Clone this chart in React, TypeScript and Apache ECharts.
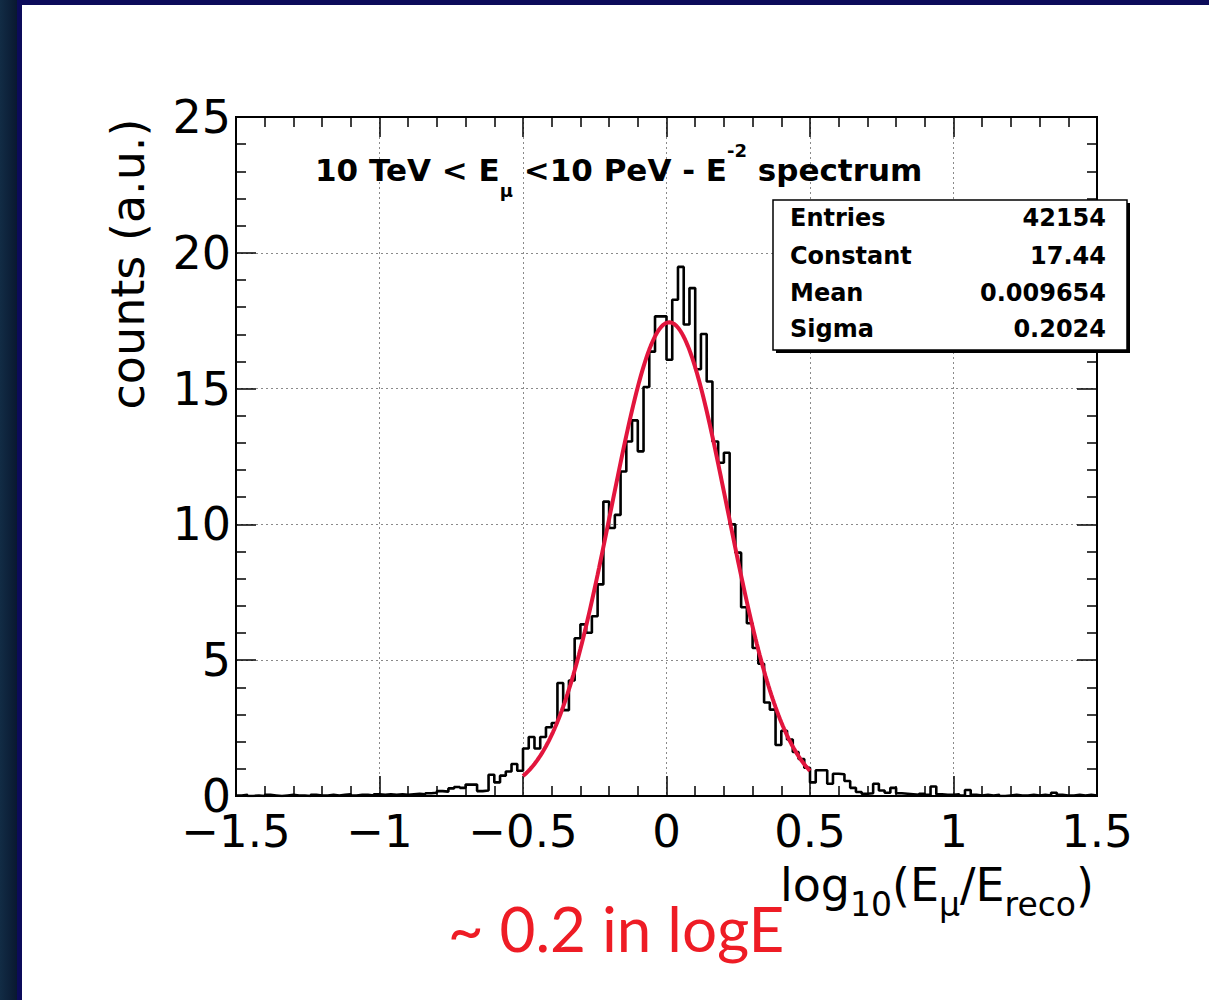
import React, { useEffect, useRef } from "react";
import * as echarts from "echarts";

// Histogram binning: 150 bins of width 0.02 over [-1.5, 1.5]
const HIST_MIN = -1.5;
const BIN_WIDTH = 0.02;

// Bin contents (counts, arbitrary units), left to right
const counts: number[] = [
  // -1.50 … -0.92
  0.02, 0.04, 0, 0.02, 0, 0.04, 0.02, 0, 0.02, 0.04,
  0.02, 0.02, 0, 0.04, 0.02, 0.02, 0.04, 0.02, 0.04, 0.06,
  0.02, 0.04, 0.04, 0.02, 0.06, 0.04, 0.06, 0.04, 0.06, 0.04,
  // -0.90 … -0.52
  0.06, 0.08, 0.06, 0.1, 0.12, 0.18, 0.16, 0.28, 0.33, 0.3,
  0.42, 0.42, 0.18, 0.2, 0.78, 0.5, 0.75, 0.9, 1.18, 0.93,
  // -0.50 … -0.02
  1.75, 2.17, 1.75, 2.17, 2.53, 2.69, 4.16, 3.16, 4.25, 5.81,
  6.32, 6.01, 6.62, 7.79, 10.84, 9.87, 10.35, 11.95, 13.05, 13.83,
  12.69, 15.06, 16.36, 17.66, 17.66,
  // 0.00 … 0.48
  16.06, 18.27, 19.48, 17.36, 18.7, 15.71, 17.01, 15.26, 13.05, 12.27,
  12.64, 10.0, 8.96, 6.95, 6.36, 5.45, 4.87, 3.44, 3.18, 1.88,
  2.4, 2.08, 1.62, 1.36, 1.04,
  // 0.50 … 1.48
  0.5, 0.95, 0.95, 0.45, 0.82, 0.8, 0.55, 0.3, 0.15, 0.08,
  0.1, 0.45, 0.2, 0.12, 0.3, 0.1, 0.08, 0.06, 0.04, 0.08,
  0.04, 0.35, 0.06, 0.04, 0.04, 0.06, 0.02, 0.22, 0.04,
  0.02, 0.04, 0.02, 0.04, 0, 0.02, 0.04, 0.02, 0.02, 0.04,
  0.02, 0.04, 0.02, 0.12, 0.04, 0.02, 0.02, 0.04, 0.02, 0.04, 0.02,
];

// Statistics box
const statNames = ["Entries", "Constant", "Mean", "Sigma"];
const statValues = ["42154", "17.44", "0.009654", "0.2024"];

// Gaussian fit, drawn over this range
const fitRange = [-0.5, 0.5];
const fitConstant = 17.44;
const fitMean = 0.009654;
const fitSigma = 0.2024;

const FONT = "DejaVu Sans";

function fmtTick(v: number): string {
  return String(v).replace("-", "\u2212");
}

export default function App() {
  const ref = useRef<HTMLDivElement>(null);

  useEffect(() => {
    if (!ref.current) return;
    const chart = echarts.init(ref.current, null, { renderer: "svg" });

    // step outline: one point per bin low edge, plus the last upper edge
    const histPoints: number[][] = counts.map((v, i) => [HIST_MIN + i * BIN_WIDTH, v]);
    histPoints.push([HIST_MIN + counts.length * BIN_WIDTH, counts[counts.length - 1]]);

    const nFit = 200;
    const fitPoints: number[][] = [];
    for (let i = 0; i <= nFit; i++) {
      const x = fitRange[0] + ((fitRange[1] - fitRange[0]) * i) / nFit;
      const z = (x - fitMean) / fitSigma;
      fitPoints.push([x, fitConstant * Math.exp(-0.5 * z * z)]);
    }

    const tickStyle = { color: "#000", width: 1.5 };
    const gridLine = { show: true, lineStyle: { color: "#8a8a8a", width: 1, type: [2, 3] } };

    const xCommon = {
      type: "value",
      min: -1.5,
      max: 1.5,
      interval: 0.5,
      axisLine: { show: true, onZero: false, lineStyle: { color: "#000", width: 2 } },
      axisTick: { show: true, inside: true, length: 20, lineStyle: tickStyle },
      minorTick: { show: true, splitNumber: 5, length: 10, lineStyle: tickStyle },
    };
    const yCommon = {
      type: "value",
      min: 0,
      max: 25,
      interval: 5,
      axisLine: { show: true, onZero: false, lineStyle: { color: "#000", width: 2 } },
      axisTick: { show: true, inside: true, length: 20, lineStyle: tickStyle },
      minorTick: { show: true, splitNumber: 5, length: 10, lineStyle: tickStyle },
    };

    const statTexts: any[] = [];
    const rowY = [218, 256, 293, 329];
    statNames.forEach((name, i) => {
      statTexts.push({
        type: "text",
        x: 790,
        y: rowY[i],
        z: 102,
        style: {
          text: name,
          fontFamily: FONT,
          fontWeight: "bold",
          fontSize: 24,
          fill: "#000",
          align: "left",
          verticalAlign: "middle",
        },
      });
      statTexts.push({
        type: "text",
        x: 1106,
        y: rowY[i],
        z: 102,
        style: {
          text: statValues[i],
          fontFamily: FONT,
          fontWeight: "bold",
          fontSize: 24,
          fill: "#000",
          align: "right",
          verticalAlign: "middle",
        },
      });
    });

    const option: any = {
      animation: false,
      backgroundColor: "#ffffff",
      grid: {
        left: 236,
        top: 117,
        width: 861,
        height: 679,
        show: true,
        borderColor: "#000",
        borderWidth: 2,
        containLabel: false,
      },
      xAxis: [
        {
          ...xCommon,
          position: "bottom",
          axisLabel: {
            show: true,
            fontFamily: FONT,
            fontSize: 45,
            color: "#000",
            margin: 13,
            formatter: (v: number) => fmtTick(v),
          },
          splitLine: gridLine,
        },
        {
          ...xCommon,
          position: "top",
          axisLabel: { show: false },
          splitLine: { show: false },
        },
      ],
      yAxis: [
        {
          ...yCommon,
          position: "left",
          axisLabel: {
            show: true,
            fontFamily: FONT,
            fontSize: 46,
            color: "#000",
            margin: 5,
          },
          splitLine: gridLine,
        },
        {
          ...yCommon,
          position: "right",
          axisLabel: { show: false },
          splitLine: { show: false },
        },
      ],
      series: [
        {
          type: "line",
          name: "histogram",
          xAxisIndex: 0,
          yAxisIndex: 0,
          data: histPoints,
          step: "end",
          symbol: "none",
          lineStyle: { color: "#000", width: 2.6 },
          z: 3,
          silent: true,
        },
        {
          type: "line",
          name: "gaus fit",
          xAxisIndex: 0,
          yAxisIndex: 0,
          data: fitPoints,
          symbol: "none",
          smooth: false,
          lineStyle: { color: "#e2153d", width: 4 },
          z: 4,
          silent: true,
        },
      ],
      graphic: [
        // slide frame
        {
          type: "rect",
          z: 0,
          shape: { x: 0, y: 0, width: 17, height: 1000 },
          style: {
            fill: new echarts.graphic.LinearGradient(0, 0, 1, 0, [
              { offset: 0, color: "#122c45" },
              { offset: 1, color: "#091830" },
            ]),
          },
        },
        { type: "rect", z: 0, shape: { x: 17, y: 0, width: 5, height: 1000 }, style: { fill: "#0c0b5a" } },
        { type: "rect", z: 0, shape: { x: 17, y: 0, width: 1192, height: 5 }, style: { fill: "#0c0b5a" } },
        // title
        {
          type: "text",
          x: 315,
          y: 170,
          z: 50,
          style: {
            text: "{b|10 TeV < E}{sub|\u03bc}{b| <10 PeV - E}{sup|-2}{b| spectrum}",
            align: "left",
            verticalAlign: "middle",
            rich: {
              b: { fontFamily: FONT, fontWeight: "bold", fontSize: 31, lineHeight: 58, fill: "#000" },
              sub: {
                fontFamily: FONT,
                fontWeight: "bold",
                fontSize: 18,
                lineHeight: 18,
                verticalAlign: "bottom",
                fill: "#000",
              },
              sup: {
                fontFamily: FONT,
                fontWeight: "bold",
                fontSize: 18,
                lineHeight: 38,
                verticalAlign: "top",
                fill: "#000",
              },
            },
          },
        },
        // stats box: shadow, box, entries
        {
          type: "rect",
          z: 100,
          shape: { x: 776, y: 203, width: 354, height: 150 },
          style: { fill: "#000" },
        },
        {
          type: "rect",
          z: 101,
          shape: { x: 773, y: 200, width: 354, height: 150 },
          style: { fill: "#fff", stroke: "#000", lineWidth: 1.5 },
        },
        ...statTexts,
        // y axis title
        {
          type: "text",
          x: 128,
          y: 264,
          rotation: Math.PI / 2,
          z: 50,
          style: {
            text: "counts (a.u.)",
            fontFamily: FONT,
            fontSize: 46,
            fill: "#000",
            align: "center",
            verticalAlign: "middle",
          },
        },
        // x axis title
        {
          type: "text",
          x: 1094,
          y: 885,
          z: 50,
          style: {
            text: "{b|log}{s1|10}{b|(E}{s2|\u03bc}{b|/E}{s2|reco}{b|)}",
            align: "right",
            verticalAlign: "middle",
            rich: {
              b: { fontFamily: FONT, fontSize: 46, lineHeight: 72, fill: "#000" },
              s1: { fontFamily: FONT, fontSize: 33, lineHeight: 28, verticalAlign: "bottom", fill: "#000" },
              s2: { fontFamily: FONT, fontSize: 33, lineHeight: 44, verticalAlign: "bottom", fill: "#000" },
            },
          },
        },
        // annotation
        {
          type: "text",
          x: 616,
          y: 928,
          z: 50,
          style: {
            text: "~ 0.2 in logE",
            fontFamily: "Lato",
            fontSize: 62,
            fill: "#ee1c25",
            align: "center",
            verticalAlign: "middle",
          },
        },
      ],
    };

    chart.setOption(option);
    return () => chart.dispose();
  }, []);

  return (
    <div
      ref={ref}
      style={{ position: "fixed", left: 0, top: 0, width: 1209, height: 1000, background: "#fff" }}
    />
  );
}
